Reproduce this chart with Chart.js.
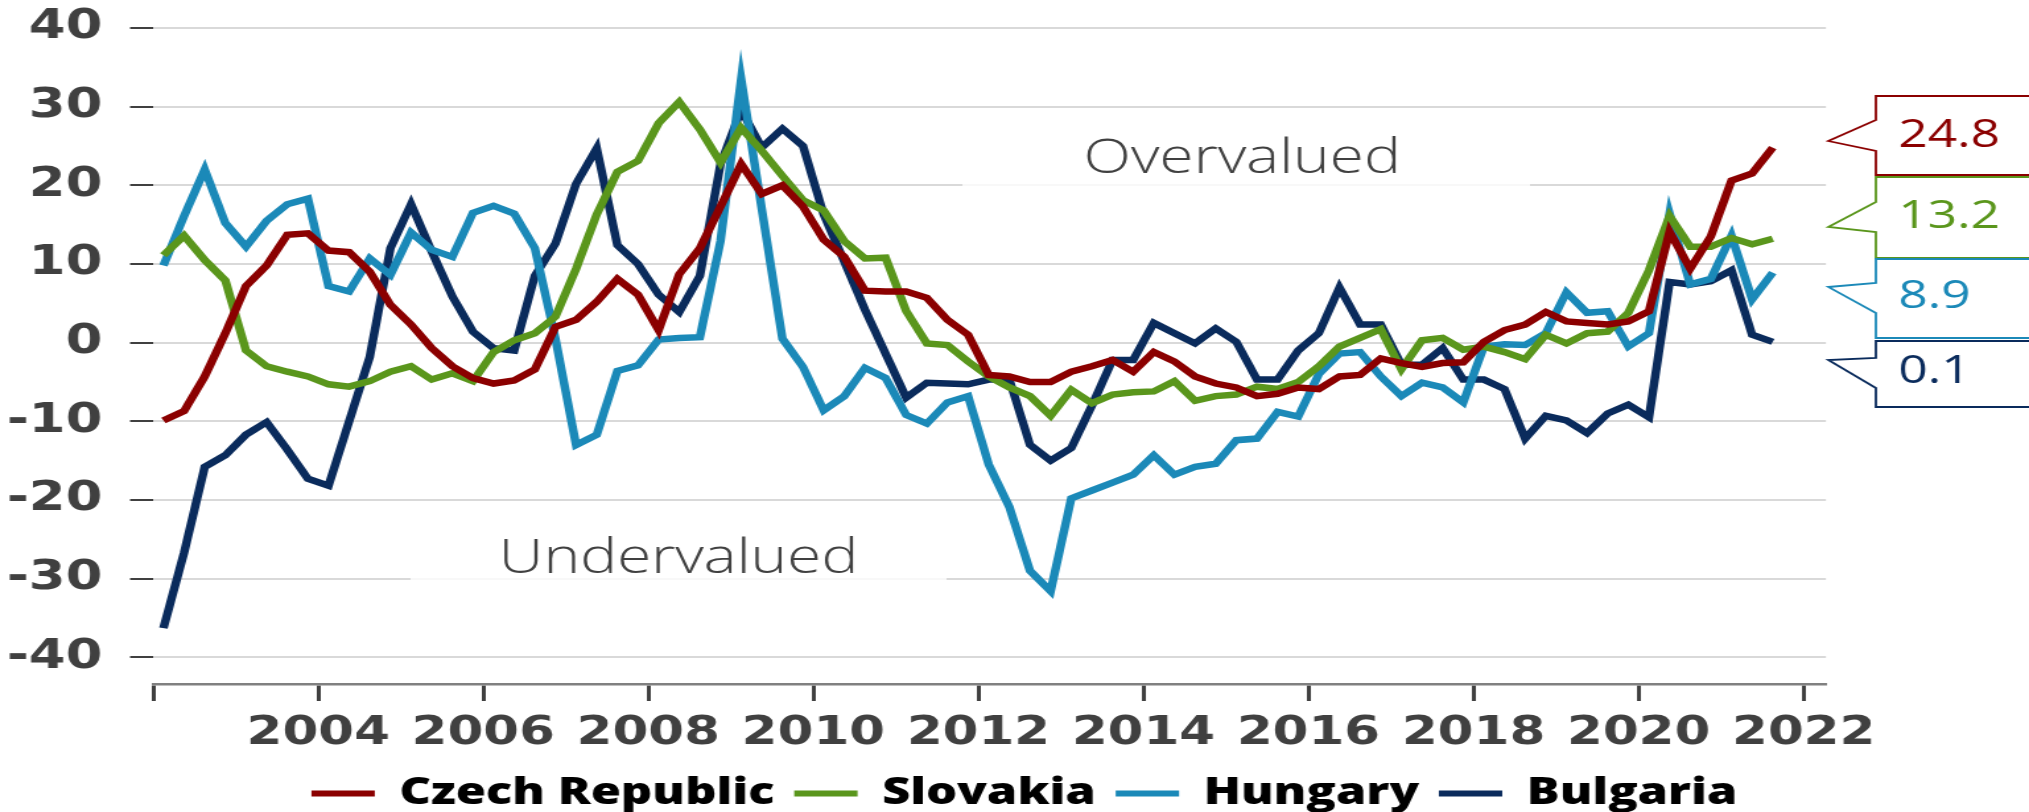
<!DOCTYPE html>
<html>
<head>
<meta charset="utf-8">
<title>Exchange rate misalignment</title>
<script src="https://cdn.jsdelivr.net/npm/chart.js@4.4.1/dist/chart.umd.min.js"></script>
<style>
  html, body { margin: 0; padding: 0; background: #fff; overflow: hidden; }
  body { width: 2029px; height: 812px; }
  /* the source picture is stretched sideways, so draw narrower and widen it */
  #wrap { position: absolute; left: 0; top: 0; width: 1537px; height: 812px;
          transform: scaleX(1.32010); transform-origin: 0 0; }
</style>
</head>
<body>
<div id="wrap"><canvas id="chart"></canvas></div>
<script>
// quarters 2002Q1 .. 2021Q3
const quarters = [];
for (let y = 2002; y <= 2021; y++) {
  for (let q = 1; q <= 4; q++) {
    if (y < 2021 || q <= 3) quarters.push(y + 'Q' + q);
  }
}

const czech = [
  -9.9, -8.7, -4.3, 1.2, 7.2, 9.8, 13.7, 13.9, 11.7, 11.5,
  9.0, 4.8, 2.3, -0.7, -3.0, -4.5, -5.2, -4.8, -3.4, 2.0,
  2.9, 5.2, 8.1, 6.1, 1.6, 8.7, 12.0, 17.3, 22.7, 18.9,
  20.0, 17.3, 13.1, 10.9, 6.6, 6.5, 6.5, 5.7, 2.9, 1.0,
  -4.1, -4.3, -5.0, -5.0, -3.7, -3.0, -2.2, -3.7, -1.2, -2.4,
  -4.3, -5.2, -5.7, -6.8, -6.5, -5.7, -5.9, -4.3, -4.1, -2.0,
  -2.6, -3.1, -2.6, -2.5, 0.1, 1.6, 2.3, 3.9, 2.7, 2.5,
  2.3, 2.7, 4.0, 14.1, 9.4, 13.5, 20.6, 21.5, 24.8
];
const slovakia = [
  11.1, 13.6, 10.5, 7.9, -1.0, -3.0, -3.7, -4.3, -5.3, -5.6,
  -4.9, -3.7, -3.0, -4.7, -3.9, -4.9, -1.2, 0.3, 1.2, 3.3,
  9.4, 16.3, 21.7, 23.1, 27.9, 30.6, 27.1, 22.9, 27.3, 24.4,
  21.2, 18.1, 16.8, 12.9, 10.7, 10.8, 4.0, -0.1, -0.3, -2.4,
  -4.3, -5.7, -6.8, -9.3, -6.0, -7.7, -6.6, -6.3, -6.2, -4.9,
  -7.4, -6.8, -6.6, -5.6, -5.9, -5.0, -3.0, -0.5, 0.6, 1.7,
  -3.4, 0.3, 0.6, -0.9, -0.5, -1.2, -2.1, 1.0, -0.1, 1.2,
  1.4, 3.8, 9.2, 16.1, 12.2, 12.2, 13.3, 12.5, 13.2
];
const hungary = [
  9.8, 16.1, 22.0, 15.2, 12.2, 15.5, 17.6, 18.3, 7.2, 6.5,
  10.7, 8.6, 14.0, 11.8, 10.9, 16.5, 17.4, 16.4, 12.0, 0.5,
  -13.0, -11.7, -3.6, -2.9, 0.4, 0.6, 0.7, 12.9, 33.5, 17.0,
  0.5, -3.1, -8.6, -6.8, -3.2, -4.5, -9.2, -10.3, -7.6, -6.8,
  -15.5, -20.9, -29.0, -31.6, -19.8, -18.8, -17.8, -16.8, -14.3, -16.8,
  -15.8, -15.4, -12.4, -12.2, -8.8, -9.4, -4.0, -1.4, -1.2, -4.3,
  -6.8, -5.1, -5.7, -7.6, -0.5, -0.2, -0.3, 1.2, 6.4, 3.8,
  4.0, -0.5, 1.2, 16.4, 7.4, 8.1, 13.6, 5.5, 8.9
];
const bulgaria = [
  -36.3, -26.7, -15.8, -14.3, -11.7, -10.1, -13.6, -17.3, -18.2, -10.0,
  -1.8, 12.0, 17.6, 11.6, 5.9, 1.4, -0.7, -1.0, 8.5, 12.6,
  20.2, 24.7, 12.4, 10.0, 6.1, 3.9, 8.5, 22.7, 29.6, 24.8,
  27.2, 25.0, 16.3, 10.3, 4.2, -1.4, -7.0, -5.1, -5.2, -5.3,
  -4.7, -4.7, -13.0, -15.0, -13.4, -8.0, -2.2, -2.2, 2.5, 1.2,
  -0.1, 1.8, 0.1, -4.7, -4.7, -1.0, 1.2, 7.0, 2.3, 2.3,
  -2.8, -2.8, -0.7, -4.7, -4.7, -5.9, -12.2, -9.3, -9.9, -11.5,
  -9.0, -7.9, -9.5, 7.7, 7.4, 7.8, 9.2, 1.0, 0.1
];

const seriesNames = ['Czech Republic', 'Slovakia', 'Hungary', 'Bulgaria'];
const seriesValues = [czech, slovakia, hungary, bulgaria];
const seriesColors = ['#8b0000', '#5a961c', '#1b89b8', '#0a2b5c'];

const yTicks = [-40, -30, -20, -10, 0, 10, 20, 30, 40];
const xTicks = [2002, 2004, 2006, 2008, 2010, 2012, 2014, 2016, 2018, 2020, 2022];
const xTickLabels = ['', '2004', '2006', '2008', '2010', '2012', '2014', '2016', '2018', '2020', '2022'];

// place each quarter in the middle of its three months
function quarterPos(q) {
  return Number(q.slice(0, 4)) + (Number(q.slice(5)) - 0.5) / 4;
}

// value boxes on the right, stacked top to bottom
const calloutBoxes = [
  { top: 96, bottom: 175, p1: 120, tip: 141, p2: 151, base: 147 },
  { top: 177, bottom: 258, p1: 202, tip: 227, p2: 232, base: 228 },
  { top: 259, bottom: 338, p1: 283, tip: 287, p2: 313, base: 308 },
  { top: 341, bottom: 407, p1: 358, tip: 360, p2: 388, base: 383 }
];

const annotations = {
  id: 'annotations',
  beforeDatasetsDraw(chart) {
    const ctx = chart.ctx;
    ctx.save();
    ctx.fillStyle = 'rgba(255,255,255,0.82)';
    ctx.fillRect(729, 116, 430, 74);
    ctx.fillRect(311, 516, 406, 68);
    ctx.fillStyle = '#404040';
    ctx.font = '300 47px "Open Sans", Lato, sans-serif';
    ctx.textAlign = 'center';
    ctx.textBaseline = 'alphabetic';
    ctx.fillText('Overvalued', 941, 173);
    ctx.fillText('Undervalued', 514, 573);
    ctx.restore();
  },
  afterDraw(chart) {
    const ctx = chart.ctx;
    const left = 1421, tipX = 1385, right = chart.width + 5;
    ctx.save();
    ctx.lineWidth = 1.8;
    ctx.lineJoin = 'miter';
    ctx.font = '400 39px "Open Sans", sans-serif';
    ctx.textAlign = 'left';
    ctx.textBaseline = 'alphabetic';
    chart.data.datasets.forEach((ds, i) => {
      const b = calloutBoxes[i];
      const last = ds.data[ds.data.length - 1].y;
      ctx.beginPath();
      ctx.moveTo(right, b.top);
      ctx.lineTo(left, b.top);
      ctx.lineTo(left, b.p1);
      ctx.lineTo(tipX, b.tip);
      ctx.lineTo(left, b.p2);
      ctx.lineTo(left, b.bottom);
      ctx.lineTo(right, b.bottom);
      ctx.fillStyle = '#fff';
      ctx.fill();
      ctx.strokeStyle = ds.borderColor;
      ctx.stroke();
      ctx.fillStyle = ds.borderColor;
      ctx.fillText(last.toFixed(1), 1438, b.base);
    });
    ctx.restore();
  }
};

new Chart(document.getElementById('chart'), {
  type: 'line',
  data: {
    datasets: seriesNames.map((name, i) => ({
      label: name,
      data: seriesValues[i].map((v, j) => ({ x: quarterPos(quarters[j]), y: v })),
      borderColor: seriesColors[i],
      backgroundColor: seriesColors[i],
      borderWidth: 6.5,
      pointRadius: 0,
      tension: 0,
      fill: false
    }))
  },
  options: {
    responsive: true,
    maintainAspectRatio: false,
    animation: false,
    // negative right padding only nudges the centred legend to the right
    layout: { padding: { top: 28, right: -15, bottom: -10, left: 0 } },
    scales: {
      x: {
        type: 'linear',
        min: 2002,
        max: 2022.27,
        bounds: 'data',
        afterBuildTicks: s => { s.ticks = xTicks.map(v => ({ value: v })); },
        afterFit: s => { s.height = 76; },
        grid: { drawOnChartArea: false, drawTicks: true, tickLength: 17, tickWidth: 3, tickColor: '#404040' },
        border: { display: true, color: '#808080', width: 2.5 },
        ticks: {
          autoSkip: false,
          maxRotation: 0,
          padding: 9,
          color: '#404040',
          font: { family: '"DejaVu Sans", Verdana, sans-serif', weight: 'bold', size: 39 },
          callback: (v, i) => xTickLabels[i]
        }
      },
      y: {
        min: -43.4,
        max: 40,
        bounds: 'data',
        afterBuildTicks: s => { s.ticks = yTicks.map(v => ({ value: v })); },
        afterFit: s => { s.width = 116; s.paddingTop = 0; s.paddingBottom = 0; },
        grid: { color: '#d9d9d9', lineWidth: 2, drawTicks: true, tickLength: 17.5, tickWidth: 2, tickColor: '#404040' },
        border: { display: false },
        ticks: {
          padding: 21,
          color: '#404040',
          font: { family: '"DejaVu Sans", Verdana, sans-serif', weight: 'bold', size: 40 },
          callback: v => String(v)
        }
      },
      // empty right-hand axis that keeps room for the value boxes
      yRoom: {
        position: 'right',
        grid: { display: false, drawTicks: false },
        border: { display: false },
        ticks: { display: false },
        afterFit: s => { s.width = 168.8; s.paddingTop = 0; s.paddingBottom = 0; }
      }
    },
    plugins: {
      legend: {
        position: 'bottom',
        labels: {
          color: '#000',
          boxWidth: 48,
          boxHeight: 6,
          padding: 15,
          font: { family: '"Open Sans", sans-serif', weight: 800, size: 37 },
          generateLabels: chart => Chart.defaults.plugins.legend.labels.generateLabels(chart)
            .map(l => Object.assign(l, { lineWidth: 0, fillStyle: l.strokeStyle }))
        }
      },
      tooltip: { enabled: false }
    }
  },
  plugins: [annotations]
});
</script>
</body>
</html>
